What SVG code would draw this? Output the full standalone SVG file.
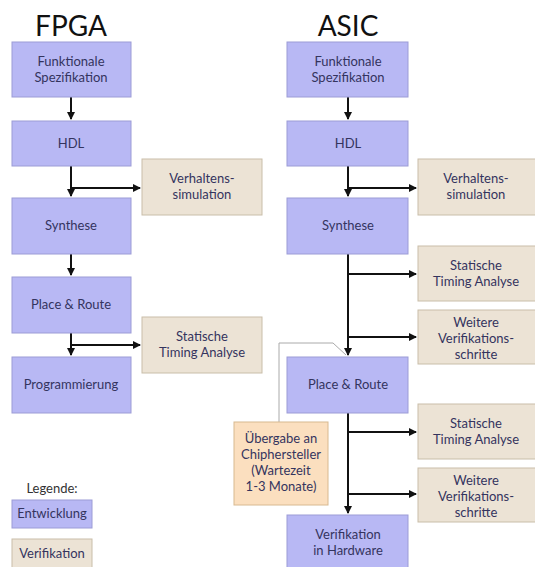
<svg xmlns="http://www.w3.org/2000/svg" width="535" height="567" viewBox="0 0 535 567">
<defs>
<style>
.dev{fill:#b8b8f4;stroke:#9c9cd6;stroke-width:1}
.ver{fill:#ece3d5;stroke:#c9bea9;stroke-width:1}
.hand{fill:#fbdfbf;stroke:#d8b990;stroke-width:1}
text{font-family:Lato,"Open Sans","DejaVu Sans",sans-serif;font-size:13px;fill:#34345e;text-anchor:middle}
.title{font-size:28px;fill:#111}
.leg{fill:#333}
.c{fill:none;stroke:#111;stroke-width:2}
.thin{fill:none;stroke:#aaa;stroke-width:1}
</style>
<marker id="ah" viewBox="0 0 8 8" refX="7" refY="4" markerWidth="4" markerHeight="4" orient="auto" markerUnits="strokeWidth">
<path d="M0,0 L8,4 L0,8 z" fill="#111"/>
</marker>
</defs>
<rect width="535" height="567" fill="#fff"/>
<text class="title" x="71" y="36">FPGA</text>
<text class="title" x="348" y="36">ASIC</text>

<g id="connectors">
<path class="c" d="M71,97 V119" marker-end="url(#ah)"/>
<path class="c" d="M71,166 V196" marker-end="url(#ah)"/>
<path class="c" d="M71,188 H140" marker-end="url(#ah)"/>
<path class="c" d="M71,254 V275" marker-end="url(#ah)"/>
<path class="c" d="M71,333 V355" marker-end="url(#ah)"/>
<path class="c" d="M71,345 H140" marker-end="url(#ah)"/>

<path class="c" d="M348,97 V119" marker-end="url(#ah)"/>
<path class="c" d="M348,166 V196" marker-end="url(#ah)"/>
<path class="c" d="M348,188 H416" marker-end="url(#ah)"/>
<path class="c" d="M348,254 V355" marker-end="url(#ah)"/>
<path class="c" d="M348,274 H416" marker-end="url(#ah)"/>
<path class="c" d="M348,337 H416" marker-end="url(#ah)"/>
<path class="c" d="M348,413 V513" marker-end="url(#ah)"/>
<path class="c" d="M348,432 H416" marker-end="url(#ah)"/>
<path class="c" d="M348,494 H416" marker-end="url(#ah)"/>
<path class="thin" d="M279,422 V343 H333 L346,355"/>
</g>

<g id="f1"><rect class="dev" x="12" y="42" width="119" height="55"/><text x="71" y="66">Funktionale</text><text x="71" y="82">Spezifikation</text></g>
<g id="f2"><rect class="dev" x="12" y="121" width="119" height="45"/><text x="71" y="148">HDL</text></g>
<g id="f3"><rect class="dev" x="12" y="198" width="119" height="56"/><text x="71" y="230">Synthese</text></g>
<g id="f4"><rect class="dev" x="12" y="277" width="119" height="56"/><text x="71" y="309">Place &amp; Route</text></g>
<g id="f5"><rect class="dev" x="12" y="357" width="119" height="56"/><text x="71" y="389">Programmierung</text></g>
<g id="fv1"><rect class="ver" x="142" y="159" width="120" height="56"/><text x="202" y="183">Verhaltens-</text><text x="202" y="199">simulation</text></g>
<g id="fv2"><rect class="ver" x="142" y="317" width="120" height="56"/><text x="202" y="341">Statische</text><text x="202" y="357">Timing Analyse</text></g>

<g id="a1"><rect class="dev" x="287" y="42" width="121" height="55"/><text x="348" y="66">Funktionale</text><text x="348" y="82">Spezifikation</text></g>
<g id="a2"><rect class="dev" x="287" y="121" width="121" height="45"/><text x="348" y="148">HDL</text></g>
<g id="a3"><rect class="dev" x="287" y="198" width="121" height="56"/><text x="348" y="230">Synthese</text></g>
<g id="a4"><rect class="dev" x="287" y="357" width="121" height="56"/><text x="348" y="389">Place &amp; Route</text></g>
<g id="a5"><rect class="dev" x="287" y="515" width="121" height="56"/><text x="348" y="539">Verifikation</text><text x="348" y="555">in Hardware</text></g>
<g id="av1"><rect class="ver" x="418" y="159" width="120" height="56"/><text x="476" y="183">Verhaltens-</text><text x="476" y="199">simulation</text></g>
<g id="av2"><rect class="ver" x="418" y="246" width="120" height="55"/><text x="476" y="270">Statische</text><text x="476" y="286">Timing Analyse</text></g>
<g id="av3"><rect class="ver" x="418" y="310" width="120" height="54"/><text x="476" y="327">Weitere</text><text x="476" y="343">Verifikations-</text><text x="476" y="359">schritte</text></g>
<g id="av4"><rect class="ver" x="418" y="404" width="120" height="55"/><text x="476" y="428">Statische</text><text x="476" y="444">Timing Analyse</text></g>
<g id="av5"><rect class="ver" x="418" y="468" width="120" height="54"/><text x="476" y="485">Weitere</text><text x="476" y="501">Verifikations-</text><text x="476" y="517">schritte</text></g>
<g id="handover"><rect class="hand" x="234" y="422" width="94" height="83"/><text x="281" y="443">Übergabe an</text><text x="281" y="459">Chiphersteller</text><text x="281" y="475">(Wartezeit</text><text x="281" y="491">1-3 Monate)</text></g>

<g id="legend">
<text class="leg" x="52" y="493">Legende:</text>
<g id="leg-dev"><rect class="dev" x="12" y="500" width="80" height="28"/><text x="52" y="518">Entwicklung</text></g>
<g id="leg-ver"><rect class="ver" x="12" y="539" width="80" height="30"/><text x="52" y="558">Verifikation</text></g>
</g>
</svg>
